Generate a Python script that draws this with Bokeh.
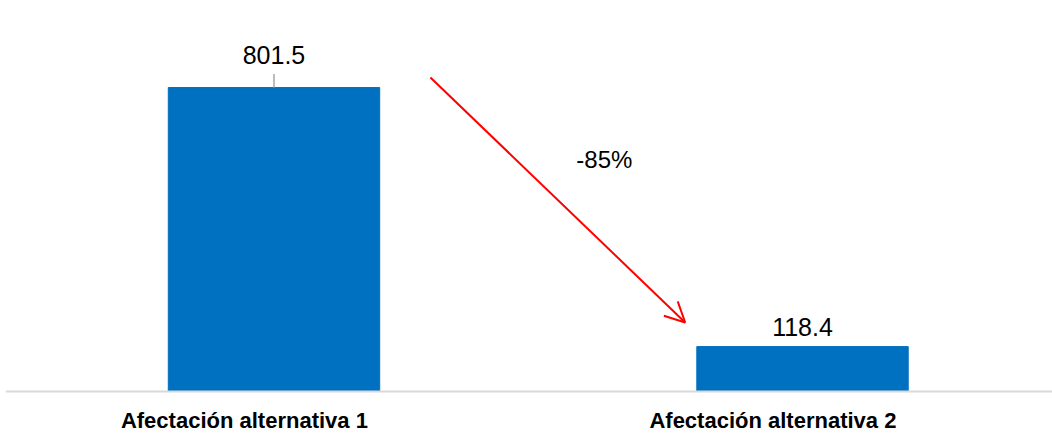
from bokeh.plotting import figure
from bokeh.models import Range1d, Span, Arrow, OpenHead, ColumnDataSource
from bokeh.core.properties import value
from bokeh.embed import file_html
from bokeh.resources import INLINE

categories = ["Afectación alternativa 1", "Afectación alternativa 2"]
values = [801.5, 118.4]
value_labels = ["801.5", "118.4"]
change_label = "-85%"

# layout: label offsets above bar tops (data units)
label_offsets = [63, 28]

xs = list(range(len(categories)))

p = figure(width=1052, height=435, output_backend="svg", toolbar_location=None,
           x_range=Range1d(-0.508, 1.473), y_range=Range1d(-116, 1031),
           min_border_left=5, min_border_right=0, min_border_top=0, min_border_bottom=0)
p.axis.visible = False
p.grid.visible = False
p.outline_line_color = None
p.background_fill_color = "white"

src = ColumnDataSource(dict(x=xs, top=values, lab=value_labels,
                            labx=[x - 0.056 for x in xs], cat=categories,
                            ly=[v + o for v, o in zip(values, label_offsets)]))

p.vbar(x="x", top="top", width=0.4, bottom=0, color="#0070C0", source=src)

# baseline
p.add_layout(Span(location=0, dimension="width", line_color="#D9D9D9", line_width=2))

# leader line for first label
p.segment(x0=xs[0], x1=xs[0], y0=values[0], y1=values[0] + 36, line_color="#A6A6A6", line_width=1.5)

# value labels
p.text(x="x", y="ly", text="lab", source=src, text_align="center", text_baseline="bottom",
       text_font=value("Liberation Sans"), text_font_size="25px", text_color="#000000")

# category labels
p.text(x="labx", y=-76, text="cat", source=src, text_align="center", text_baseline="middle",
       text_font=value("Liberation Sans"), text_font_size="22px", text_font_style="bold",
       text_color="#000000")

# arrow showing change
p.add_layout(Arrow(end=OpenHead(line_color="#FF0000", line_width=2, size=20),
                   x_start=0.296, y_start=828, x_end=0.778, y_end=182,
                   line_color="#FF0000", line_width=2))
p.text(x=[0.625], y=[612], text=[change_label], text_align="center", text_baseline="middle",
       text_font=value("Liberation Sans"), text_font_size="24px", text_color="#000000")

open("out.html", "w").write(file_html(p, INLINE))
